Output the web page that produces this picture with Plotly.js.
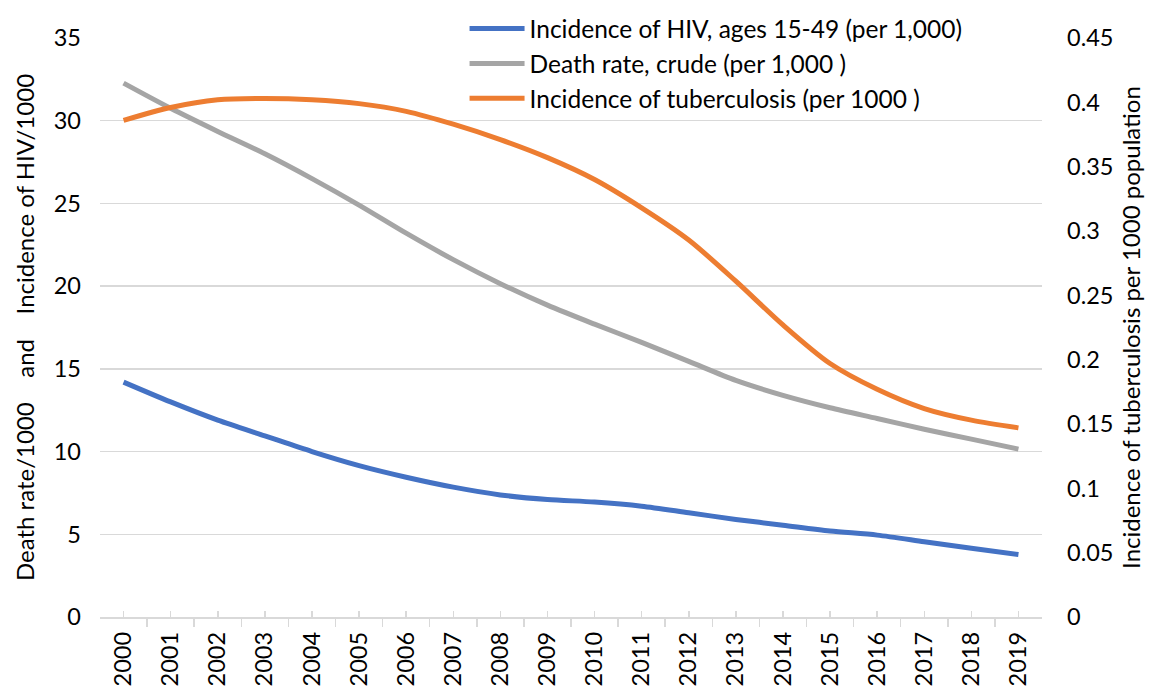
<!DOCTYPE html>
<html>
<head>
<meta charset="utf-8">
<script src="https://cdn.plot.ly/plotly-3.0.1.min.js"></script>
<style>html,body{margin:0;padding:0;background:#fff;}#chart{width:1153px;height:687px;}</style>
</head>
<body>
<div id="chart"></div>
<script>
const years = [2000,2001,2002,2003,2004,2005,2006,2007,2008,2009,2010,2011,2012,2013,2014,2015,2016,2017,2018,2019];
const hivIncidence = [14.2,13.0,11.9,10.95,10.0,9.15,8.45,7.85,7.38,7.1,6.95,6.7,6.3,5.9,5.55,5.2,4.95,4.55,4.15,3.78];
const deathRate = [32.27,30.75,29.35,28.0,26.5,24.9,23.2,21.6,20.15,18.85,17.7,16.6,15.45,14.3,13.4,12.65,12.0,11.35,10.75,10.15];
const tbIncidence = [0.386,0.396,0.402,0.403,0.402,0.399,0.393,0.383,0.371,0.357,0.340,0.318,0.293,0.261,0.227,0.197,0.177,0.162,0.153,0.147];
const seriesNames = ["Incidence of HIV, ages 15-49 (per 1,000)","Death rate, crude (per 1,000 )","Incidence of tuberculosis (per 1000 )"];
const leftTicks = [0,5,10,15,20,25,30,35];
const rightTicks = [0,0.05,0.1,0.15,0.2,0.25,0.3,0.35,0.4,0.45];

const FONT = "Lato, 'Liberation Sans', sans-serif";
const sp = "\u00A0\u00A0\u00A0\u00A0";

const traces = [
  {x: years, y: hivIncidence, name: seriesNames[0], type: 'scatter', mode: 'lines', yaxis: 'y',
   line: {color: '#4472C4', width: 5, shape: 'spline', smoothing: 0.8}},
  {x: years, y: deathRate, name: seriesNames[1], type: 'scatter', mode: 'lines', yaxis: 'y',
   line: {color: '#A5A5A5', width: 5, shape: 'spline', smoothing: 0.8}},
  {x: years, y: tbIncidence, name: seriesNames[2], type: 'scatter', mode: 'lines', yaxis: 'y2',
   line: {color: '#ED7D31', width: 5, shape: 'spline', smoothing: 0.8}}
];

const layout = {
  width: 1153, height: 687,
  margin: {l: 100, r: 111, t: 38, b: 70, pad: 0, autoexpand: false},
  paper_bgcolor: '#fff', plot_bgcolor: '#fff',
  font: {family: FONT, size: 23, color: '#000'},
  showlegend: true,
  legend: {x: 0.387, xanchor: 'left', y: 1.055, yanchor: 'top', bgcolor: 'rgba(0,0,0,0)',
           itemwidth: 55, font: {family: FONT, size: 24.5, color: '#000'}, tracegroupgap: 0},
  xaxis: {
    type: 'linear', range: [1999.5, 2019.5],
    tickmode: 'array', tickvals: years, ticktext: years.map(String),
    tickangle: -90, ticks: 'inside', ticklen: 6, tickcolor: '#D9D9D9', tickwidth: 1.5,
    minor: {tick0: 1999.5, dtick: 1, ticks: 'outside', ticklen: 8, tickcolor: '#D9D9D9', tickwidth: 1.5, showgrid: false},
    showline: true, linecolor: '#D9D9D9', linewidth: 1.5, showgrid: false, zeroline: false,
    tickfont: {family: FONT, size: 23.5, color: '#000'}, ticklabelstandoff: 4
  },
  yaxis: {
    range: [0, 35], tickmode: 'array', tickvals: leftTicks, ticks: '',
    showgrid: true, gridcolor: '#D9D9D9', gridwidth: 1.5, zeroline: false, showline: false,
    tickfont: {family: FONT, size: 23.5, color: '#000'}, ticklabelstandoff: 18,
    title: {text: 'Death rate/1000' + sp + 'and' + sp + 'Incidence of HIV/1000', font: {family: FONT, size: 24, color: '#000'}, standoff: 12}
  },
  yaxis2: {
    range: [0, 0.45], tickmode: 'array', tickvals: rightTicks, ticktext: rightTicks.map(String), ticks: '',
    overlaying: 'y', side: 'right', showgrid: false, zeroline: false, showline: false,
    tickfont: {family: FONT, size: 23.5, color: '#000'}, ticklabelstandoff: 24,
    title: {text: 'Incidence of tuberculosis per 1000 population', font: {family: FONT, size: 24, color: '#000'}, standoff: 10}
  }
};

Plotly.newPlot('chart', traces, layout, {displayModeBar: false, staticPlot: true});
</script>
</body>
</html>
